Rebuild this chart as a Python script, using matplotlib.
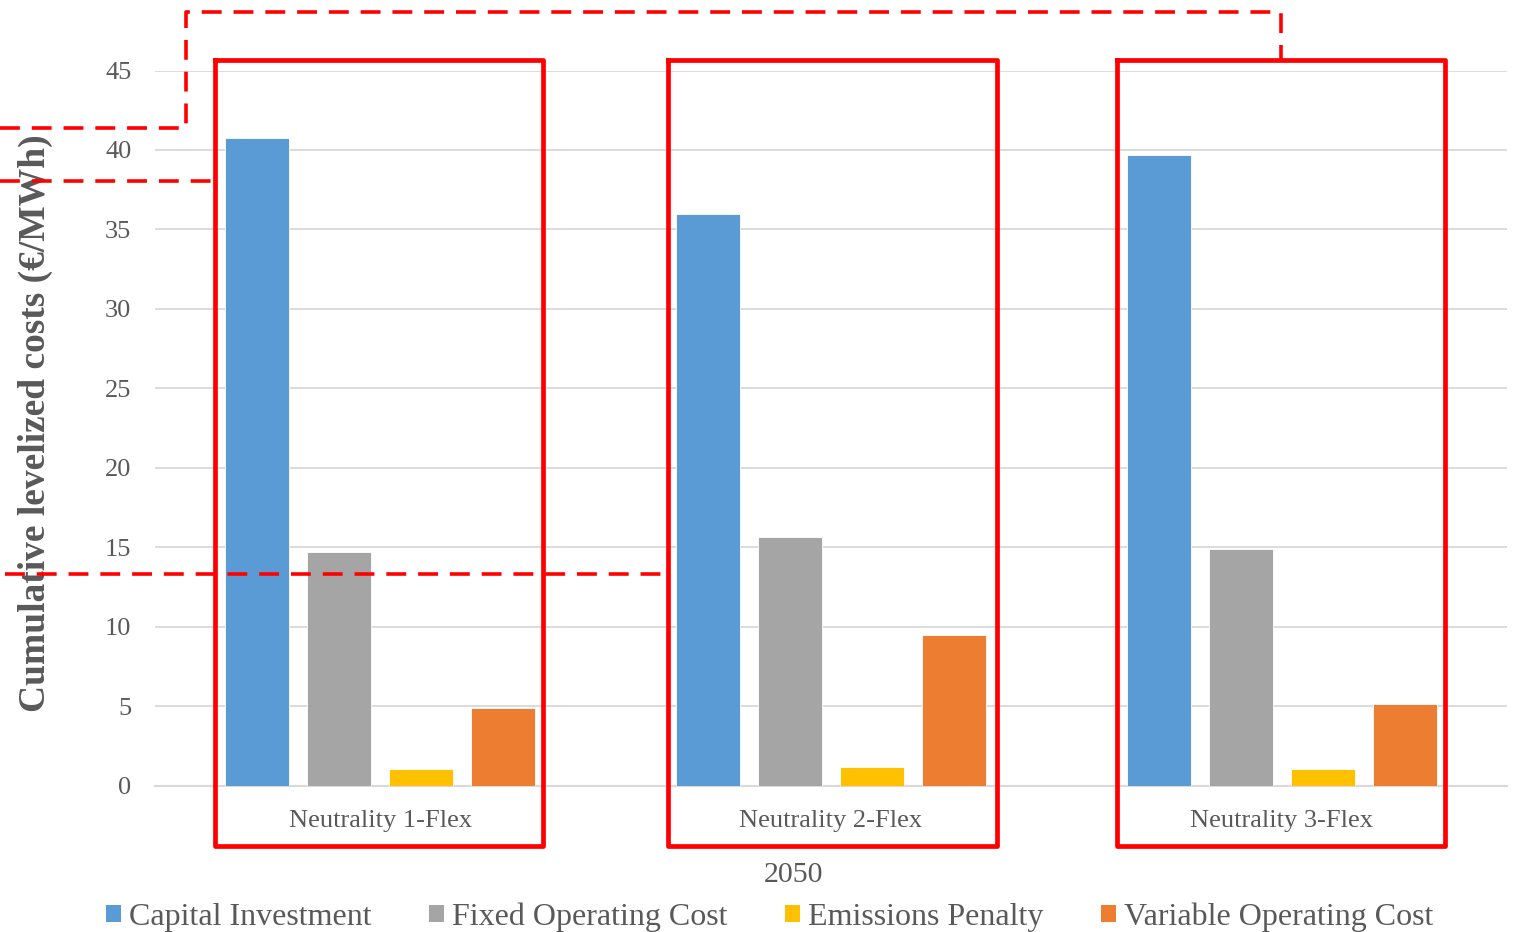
import matplotlib
matplotlib.use("Agg")
import matplotlib.pyplot as plt
import numpy as np
from matplotlib.lines import Line2D
from matplotlib.patches import Patch

plt.rcParams['font.family'] = ['Liberation Serif', 'DejaVu Serif']

scenarios = ["Neutrality 1-Flex", "Neutrality 2-Flex", "Neutrality 3-Flex"]
series_names = ["Capital Investment", "Fixed Operating Cost",
                "Emissions Penalty", "Variable Operating Cost"]
capital_investment = [40.75, 36.0, 39.7]
fixed_operating = [14.7, 15.65, 14.9]
emissions_penalty = [1.05, 1.15, 1.05]
variable_operating = [4.9, 9.5, 5.1]
y_ticks = [0, 5, 10, 15, 20, 25, 30, 35, 40, 45]
colors = ["#5B9BD5", "#A5A5A5", "#FFC000", "#ED7D31"]
text_color = "#595959"

W, H = 1517, 932
fig = plt.figure(figsize=(W / 100, H / 100), dpi=100)
ax = fig.add_axes([155 / W, 1 - 785.5 / H, (1507 - 155) / W, (785.5 - 70.5) / H])

values = [capital_investment, fixed_operating, emissions_penalty, variable_operating]
x = np.arange(len(scenarios))
bar_w = 0.142
step = 0.182
for i, (vals, name, c) in enumerate(zip(values, series_names, colors)):
    offs = (i - 1.5) * step
    ax.bar(x + offs, vals, width=bar_w, color=c, label=name, zorder=3,
           edgecolor="white", linewidth=0.6)

ax.set_xlim(-0.5, 2.5)
ax.set_ylim(0, 45)
ax.set_yticks(y_ticks)
ax.set_yticklabels([str(t) for t in y_ticks], fontsize=19, color=text_color)
ax.set_xticks(x)
ax.set_xticklabels(scenarios, fontsize=19, color=text_color)
ax.tick_params(axis='y', length=0, pad=17)
ax.tick_params(axis='x', length=0, pad=17.5)
ax.grid(axis='y', color="#D9D9D9", linewidth=1.3, zorder=0)
for s in ["top", "right", "left"]:
    ax.spines[s].set_visible(False)
ax.spines["bottom"].set_color("#D9D9D9")
ax.spines["bottom"].set_linewidth(1.5)

fig.text(793 / W, 1 - 875 / H, "2050", fontsize=21.5, color=text_color,
         ha="center", va="center")
fig.text(35 / W, 1 - 423 / H, "Cumulative levelized costs (€/MWh)", fontsize=27,
         fontweight="bold", color=text_color, rotation=90, ha="center", va="center")

handles = [Patch(facecolor=c, edgecolor="none") for c in colors]
fig.legend(handles, series_names, loc="center", bbox_to_anchor=(770 / W, 1 - 917 / H),
           ncol=4, frameon=False, fontsize=23, handlelength=0.47, handleheight=0.47,
           handletextpad=0.25, columnspacing=1.8, labelcolor=text_color,
           borderpad=0, borderaxespad=0)

# Highlight boxes around each scenario
def fig_line(xs, ys, **kw):
    line = Line2D([v / W for v in xs], [1 - v / H for v in ys],
                  transform=fig.transFigure, color="#FF0000", **kw)
    fig.add_artist(line)

for (x0, x1) in [(215, 543), (668, 997), (1117, 1445)]:
    fig_line([x0, x1, x1, x0, x0], [60, 60, 846, 846, 60], linewidth=3.4,
             solid_joinstyle="round", zorder=10)

dash = dict(linewidth=2.6, linestyle=(0, (5.5, 3.3)), zorder=10)
fig_line([0, 186, 186, 1281, 1281], [128, 128, 12, 12, 60], **dash)
fig_line([0, 213], [181, 181], **dash)
fig_line([5, 666], [574, 574], **dash)

fig.savefig("out.png", dpi=100)
